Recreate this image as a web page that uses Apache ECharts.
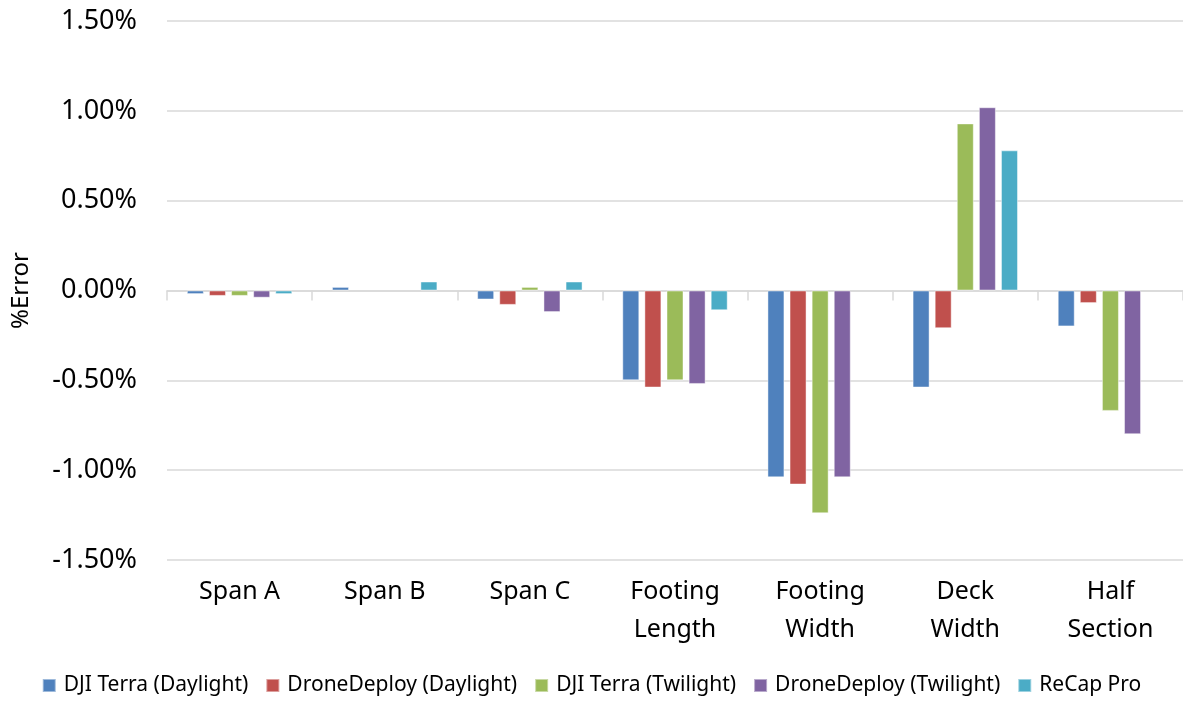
<!DOCTYPE html>
<html>
<head>
<meta charset="utf-8">
<script src="https://cdn.jsdelivr.net/npm/echarts@6/dist/echarts.min.js"></script>
<style>
  html, body { margin: 0; padding: 0; background: #ffffff; }
  #chart { width: 1183px; height: 702px; }
</style>
</head>
<body>
<div id="chart"></div>
<script>
// Measurement categories (line breaks are part of the axis labels)
const categories = ['Span A', 'Span B', 'Span C', 'Footing\nLength', 'Footing\nWidth', 'Deck\nWidth', 'Half\nSection'];

// Percent error per category, one array per processing method (null = no bar)
const djiTerraDaylight     = [-0.02, 0.02, -0.05, -0.50, -1.04, -0.54, -0.20];
const droneDeployDaylight  = [-0.03, null, -0.08, -0.54, -1.08, -0.21, -0.07];
const djiTerraTwilight     = [-0.03, null,  0.02, -0.50, -1.24,  0.93, -0.67];
const droneDeployTwilight  = [-0.04, null, -0.12, -0.52, -1.04,  1.02, -0.80];
const recapPro             = [-0.02, 0.05,  0.05, -0.11,  null,  0.78,  null];

const seriesNames = ['DJI Terra (Daylight)', 'DroneDeploy (Daylight)', 'DJI Terra (Twilight)', 'DroneDeploy (Twilight)', 'ReCap Pro'];
const seriesData = [djiTerraDaylight, droneDeployDaylight, djiTerraTwilight, droneDeployTwilight, recapPro];
const colors = ['#4F81BD', '#C0504D', '#9BBB59', '#8064A2', '#4BACC6'];

// Value axis range (percent)
const yMin = -1.5, yMax = 1.5, yStep = 0.5;

const fontFamily = '"Noto Sans", "Open Sans", sans-serif';
const gridColor = '#d9d9d9';

const chart = echarts.init(document.getElementById('chart'), null, { renderer: 'canvas' });

chart.setOption({
  animation: false,
  backgroundColor: '#ffffff',
  color: colors,
  textStyle: { fontFamily: fontFamily },
  grid: { left: 167, right: 0, top: 21, bottom: 142, containLabel: false },
  legend: {
    bottom: 1,
    left: 'center',
    itemWidth: 13,
    itemHeight: 13,
    itemGap: 17,
    icon: 'rect',
    textStyle: { fontSize: 21, color: '#000', fontFamily: fontFamily, padding: [0, 0, 0, 3] },
    data: seriesNames
  },
  xAxis: [
    {
      // axis line and boundary ticks drawn along the zero value
      type: 'category',
      data: categories,
      boundaryGap: true,
      axisLine: { onZero: true, lineStyle: { color: gridColor, width: 1.5 } },
      axisTick: { show: true, length: 10, lineStyle: { color: gridColor, width: 1.5 } },
      axisLabel: { show: false }
    },
    {
      // category labels along the bottom of the plot
      type: 'category',
      data: categories,
      position: 'bottom',
      boundaryGap: true,
      axisLine: { show: false },
      axisTick: { show: false },
      axisLabel: {
        show: true,
        margin: 13,
        color: '#000',
        fontSize: 25,
        lineHeight: 38,
        fontFamily: fontFamily
      }
    }
  ],
  yAxis: {
    type: 'value',
    min: yMin,
    max: yMax,
    interval: yStep,
    name: '%Error',
    nameLocation: 'middle',
    nameGap: 134,
    nameRotate: 90,
    nameTextStyle: { fontSize: 24, color: '#000', fontFamily: fontFamily },
    axisLine: { show: false },
    axisTick: { show: false },
    splitLine: { lineStyle: { color: gridColor, width: 1.5 } },
    axisLabel: {
      margin: 30,
      color: '#000',
      fontSize: 27,
      fontFamily: fontFamily,
      formatter: v => v.toFixed(2) + '%'
    }
  },
  series: seriesNames.map((name, i) => ({
    name: name,
    type: 'bar',
    xAxisIndex: 0,
    data: seriesData[i],
    barWidth: 17,
    barGap: '30%',
    itemStyle: {
      color: colors[i],
      borderColor: 'rgba(255,255,255,0.45)',
      borderWidth: 1
    }
  }))
});
</script>
</body>
</html>
